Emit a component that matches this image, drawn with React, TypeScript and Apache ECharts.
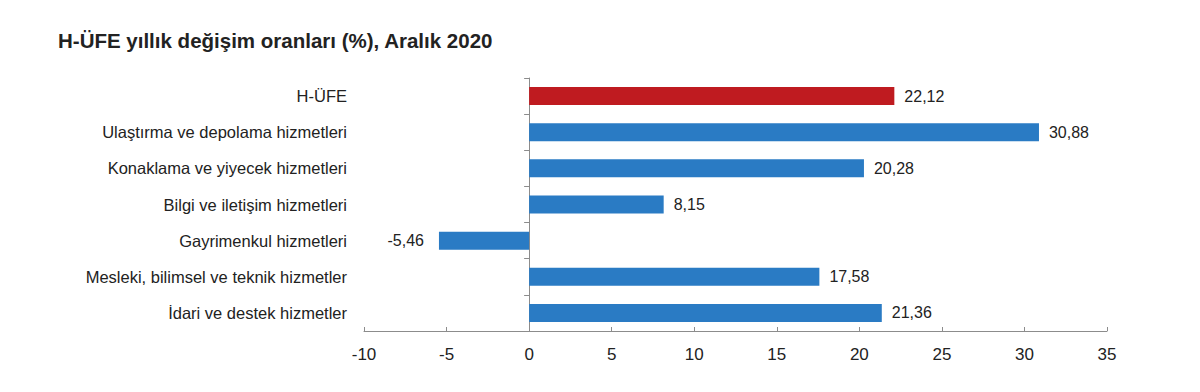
import React, { useEffect, useRef } from "react";
import * as echarts from "echarts";

const titleText = "H-ÜFE yıllık değişim oranları (%), Aralık 2020";
const categories = [
  "H-ÜFE",
  "Ulaştırma ve depolama hizmetleri",
  "Konaklama ve yiyecek hizmetleri",
  "Bilgi ve iletişim hizmetleri",
  "Gayrimenkul hizmetleri",
  "Mesleki, bilimsel ve teknik hizmetler",
  "İdari ve destek hizmetler",
];
const values = [22.12, 30.88, 20.28, 8.15, -5.46, 17.58, 21.36];
const highlightIndex = 0;
const xMin = -10;
const xMax = 35;
const xInterval = 5;

const RED = "#BF1B20";
const BLUE = "#2A7BC4";
const AXIS = "#8C8C8C";
const FONT = "'Liberation Sans', Arial, sans-serif";

export default function App() {
  const ref = useRef<HTMLDivElement>(null);
  useEffect(() => {
    document.body.style.margin = "0";
    const chart = echarts.init(ref.current!, null, { renderer: "svg" });
    // ECharts category axis goes bottom-to-top, so reverse
    const cats = [...categories].reverse();
    const vals = [...values].reverse();
    const hi = categories.length - 1 - highlightIndex;
    chart.setOption({
      animation: false,
      backgroundColor: "#ffffff",
      title: {
        text: titleText,
        left: 58,
        top: 30,
        padding: 0,
        textStyle: { fontFamily: FONT, fontSize: 20.5, fontWeight: "bold", color: "#222" },
      },
      grid: { left: 364, right: 93, top: 78, bottom: 61, containLabel: false },
      xAxis: {
        type: "value",
        min: xMin,
        max: xMax,
        interval: xInterval,
        splitLine: { show: false },
        axisLine: { show: true, onZero: false, lineStyle: { color: AXIS, width: 1 } },
        axisTick: { show: true, inside: true, length: 4, lineStyle: { color: AXIS } },
        axisLabel: { fontFamily: FONT, fontSize: 17, color: "#222", margin: 15 },
      },
      yAxis: [
        {
          type: "category",
          data: cats,
          position: "left",
          axisLine: { show: false, onZero: false },
          axisTick: { show: false },
          axisLabel: { fontFamily: FONT, fontSize: 16.5, color: "#222", margin: 17 },
        },
        {
          type: "category",
          data: cats,
          position: "left",
          axisLine: { show: true, onZero: true, lineStyle: { color: AXIS, width: 1 } },
          axisTick: { show: true, length: 5, lineStyle: { color: AXIS } },
          axisLabel: { show: false },
        },
      ],
      series: [
        {
          type: "bar",
          yAxisIndex: 0,
          barWidth: 18,
          data: vals.map((v, i) => ({
            value: v,
            itemStyle: { color: i === hi ? RED : BLUE },
            label: {
              show: true,
              position: v >= 0 ? "right" : "left",
              distance: v >= 0 ? 10 : 15,
              formatter: () => v.toFixed(2).replace(".", ","),
              fontFamily: FONT,
              fontSize: 16,
              color: "#222",
            },
          })),
        },
      ],
    });
    return () => chart.dispose();
  }, []);
  return <div ref={ref} style={{ width: 1200, height: 392 }} />;
}
